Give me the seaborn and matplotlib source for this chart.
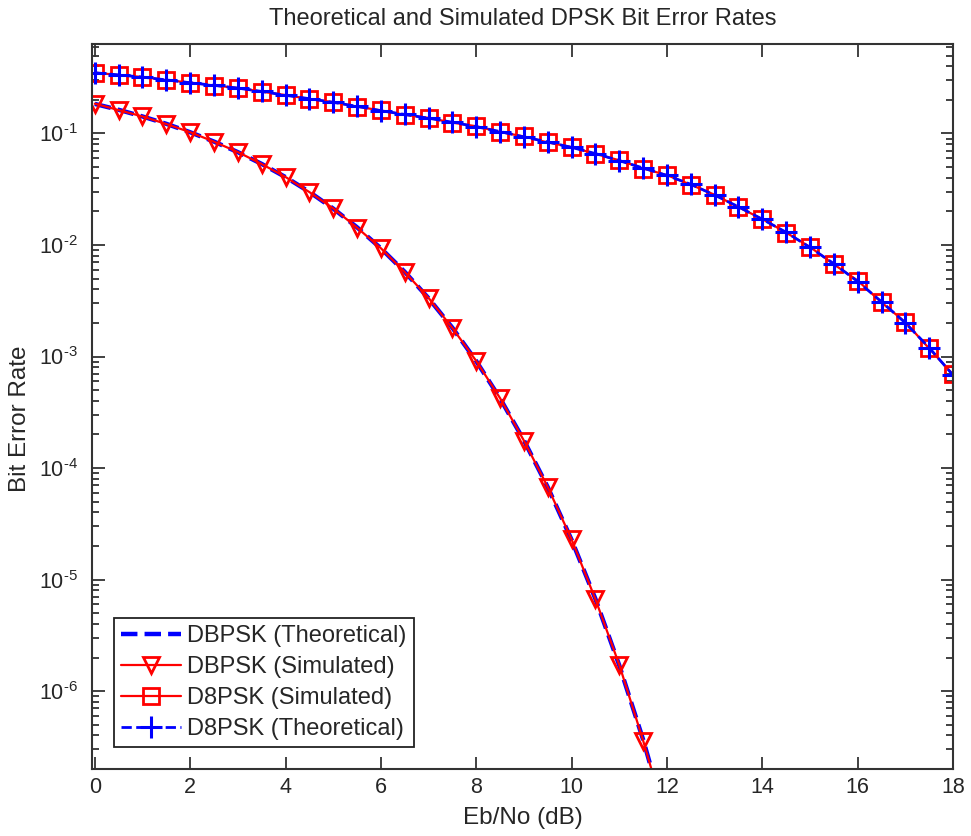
import numpy as np
import pandas as pd
import matplotlib
matplotlib.use("Agg")
import matplotlib.pyplot as plt
import matplotlib.ticker as mticker
import seaborn as sns

# ---- data ----
ebno_dbpsk = [0.0, 0.5, 1.0, 1.5, 2.0, 2.5, 3.0, 3.5, 4.0, 4.5, 5.0, 5.5, 6.0,
              6.5, 7.0, 7.5, 8.0, 8.5, 9.0, 9.5, 10.0, 10.5, 11.0, 11.5, 12.0]
dbpsk_theory = [0.184, 0.163, 0.142, 0.122, 0.1025, 0.0845, 0.068, 0.0533, 0.0406,
                0.0299, 0.0212, 0.0144, 0.00933, 0.00574, 0.00333, 0.00181,
                0.000909, 0.000421, 0.000177, 6.73e-5, 2.27e-5, 6.70e-6,
                1.70e-6, 3.67e-7, 6.5e-8]
dbpsk_sim = [0.185, 0.162, 0.142, 0.1215, 0.1027, 0.0843, 0.0681, 0.0532, 0.0407,
             0.0298, 0.0213, 0.0143, 0.00935, 0.00572, 0.00335, 0.00180,
             0.000912, 0.000423, 0.000176, 6.75e-5, 2.29e-5, 6.65e-6,
             1.72e-6, 3.6e-7, 6.6e-8]

ebno_d8psk = [0.0, 0.5, 1.0, 1.5, 2.0, 2.5, 3.0, 3.5, 4.0, 4.5, 5.0, 5.5, 6.0,
              6.5, 7.0, 7.5, 8.0, 8.5, 9.0, 9.5, 10.0, 10.5, 11.0, 11.5, 12.0,
              12.5, 13.0, 13.5, 14.0, 14.5, 15.0, 15.5, 16.0, 16.5, 17.0, 17.5, 18.0]
d8psk_theory = [0.350, 0.335, 0.320, 0.302, 0.285, 0.270, 0.255, 0.238, 0.220,
                0.205, 0.190, 0.175, 0.160, 0.148, 0.137, 0.126, 0.115, 0.104,
                0.093, 0.084, 0.075, 0.066, 0.057, 0.049, 0.042, 0.035,
                0.028, 0.022, 0.017, 0.013, 0.0095, 0.0068, 0.0047, 0.0031,
                0.0020, 0.00120, 0.00068]
d8psk_sim = [0.351, 0.334, 0.321, 0.301, 0.286, 0.269, 0.256, 0.237, 0.221,
             0.204, 0.191, 0.174, 0.161, 0.147, 0.138, 0.125, 0.116, 0.103,
             0.094, 0.083, 0.0755, 0.0655, 0.0575, 0.0485, 0.0423, 0.0347,
             0.0282, 0.0218, 0.0171, 0.0129, 0.0096, 0.0067, 0.0048, 0.00305,
             0.00203, 0.00118, 0.00069]

labels = ["DBPSK (Theoretical)", "DBPSK (Simulated)",
          "D8PSK (Simulated)", "D8PSK (Theoretical)"]
xticks = [0, 2, 4, 6, 8, 10, 12, 14, 16, 18]

sns.set_style("ticks")
plt.rcParams["font.family"] = ["Liberation Sans", "DejaVu Sans"]
plt.rcParams["mathtext.fontset"] = "custom"
plt.rcParams["mathtext.rm"] = "Liberation Sans"
plt.rcParams["mathtext.it"] = "Liberation Sans"
plt.rcParams["mathtext.default"] = "regular"

fig = plt.figure(figsize=(9.71, 8.36), dpi=100)
ax = fig.add_axes([0.0947, 0.0801, 0.8868, 0.8669])

df1 = pd.DataFrame({"x": ebno_dbpsk, "y": dbpsk_theory})
df2 = pd.DataFrame({"x": ebno_dbpsk, "y": dbpsk_sim})
df3 = pd.DataFrame({"x": ebno_d8psk, "y": d8psk_sim})
df4 = pd.DataFrame({"x": ebno_d8psk, "y": d8psk_theory})

blue = (0, 0, 1)
red = (1, 0, 0)
txt = "#262626"

sns.lineplot(data=df1, x="x", y="y", ax=ax, color=blue, linestyle="--",
             linewidth=3.2, label=labels[0], legend=False)
sns.lineplot(data=df2, x="x", y="y", ax=ax, color=red, linestyle="-",
             linewidth=1.6, marker="v", markersize=11, markerfacecolor="none",
             markeredgecolor=red, markeredgewidth=2.0, label=labels[1], legend=False)
sns.lineplot(data=df3, x="x", y="y", ax=ax, color=red, linestyle="-",
             linewidth=1.6, marker="s", markersize=12, markerfacecolor="none",
             markeredgecolor=red, markeredgewidth=2.0, label=labels[2], legend=False)
sns.lineplot(data=df4, x="x", y="y", ax=ax, color=blue, linestyle="--",
             dashes=(5, 3), linewidth=2.0, marker="+", markersize=16,
             markeredgecolor=blue, markeredgewidth=2.2, label=labels[3], legend=False)

ax.set_yscale("log")
ax.set_xlim(-0.06, 18)
ax.set_ylim(2e-7, 0.63)
ax.set_xticks(xticks)
ax.set_xticklabels([str(t) for t in xticks])
ax.xaxis.set_minor_locator(mticker.NullLocator())


def decade_fmt(v, pos):
    e = int(round(np.log10(v)))
    return "$10^{\u2010%d}$" % abs(e) if e < 0 else "$10^{%d}$" % e


ax.yaxis.set_major_locator(mticker.LogLocator(base=10, numticks=20))
ax.yaxis.set_major_formatter(mticker.FuncFormatter(decade_fmt))
ax.yaxis.set_minor_formatter(mticker.NullFormatter())

for s in ax.spines.values():
    s.set_visible(True)
    s.set_linewidth(1.5)
    s.set_color("#333333")

ax.tick_params(which="both", direction="in", top=True, right=True,
               colors="#333333", labelcolor=txt, labelsize=15.5)
ax.tick_params(which="major", length=9, width=1.3)
ax.tick_params(which="minor", length=5, width=1.3)
ax.tick_params(axis="x", pad=6)
ax.tick_params(axis="y", pad=10)

ax.set_title("Theoretical and Simulated DPSK Bit Error Rates",
             fontsize=17, color=txt, pad=14)
ax.set_xlabel("Eb/No (dB)", fontsize=17.5, color=txt, labelpad=6)
ax.set_ylabel("Bit Error Rate", fontsize=17.5, color=txt)
ax.yaxis.set_label_coords(-0.071, 0.483)

handles, labs = ax.get_legend_handles_labels()
leg = ax.legend(handles, labs, loc="lower left", bbox_to_anchor=(0.0256, 0.030),
                fontsize=17, handlelength=2.55, handletextpad=0.25,
                borderpad=0.3, borderaxespad=0, labelspacing=0.38,
                fancybox=False, framealpha=1, edgecolor="#222222")
leg.get_frame().set_linewidth(1.3)

fig.savefig("out.png", dpi=100)
